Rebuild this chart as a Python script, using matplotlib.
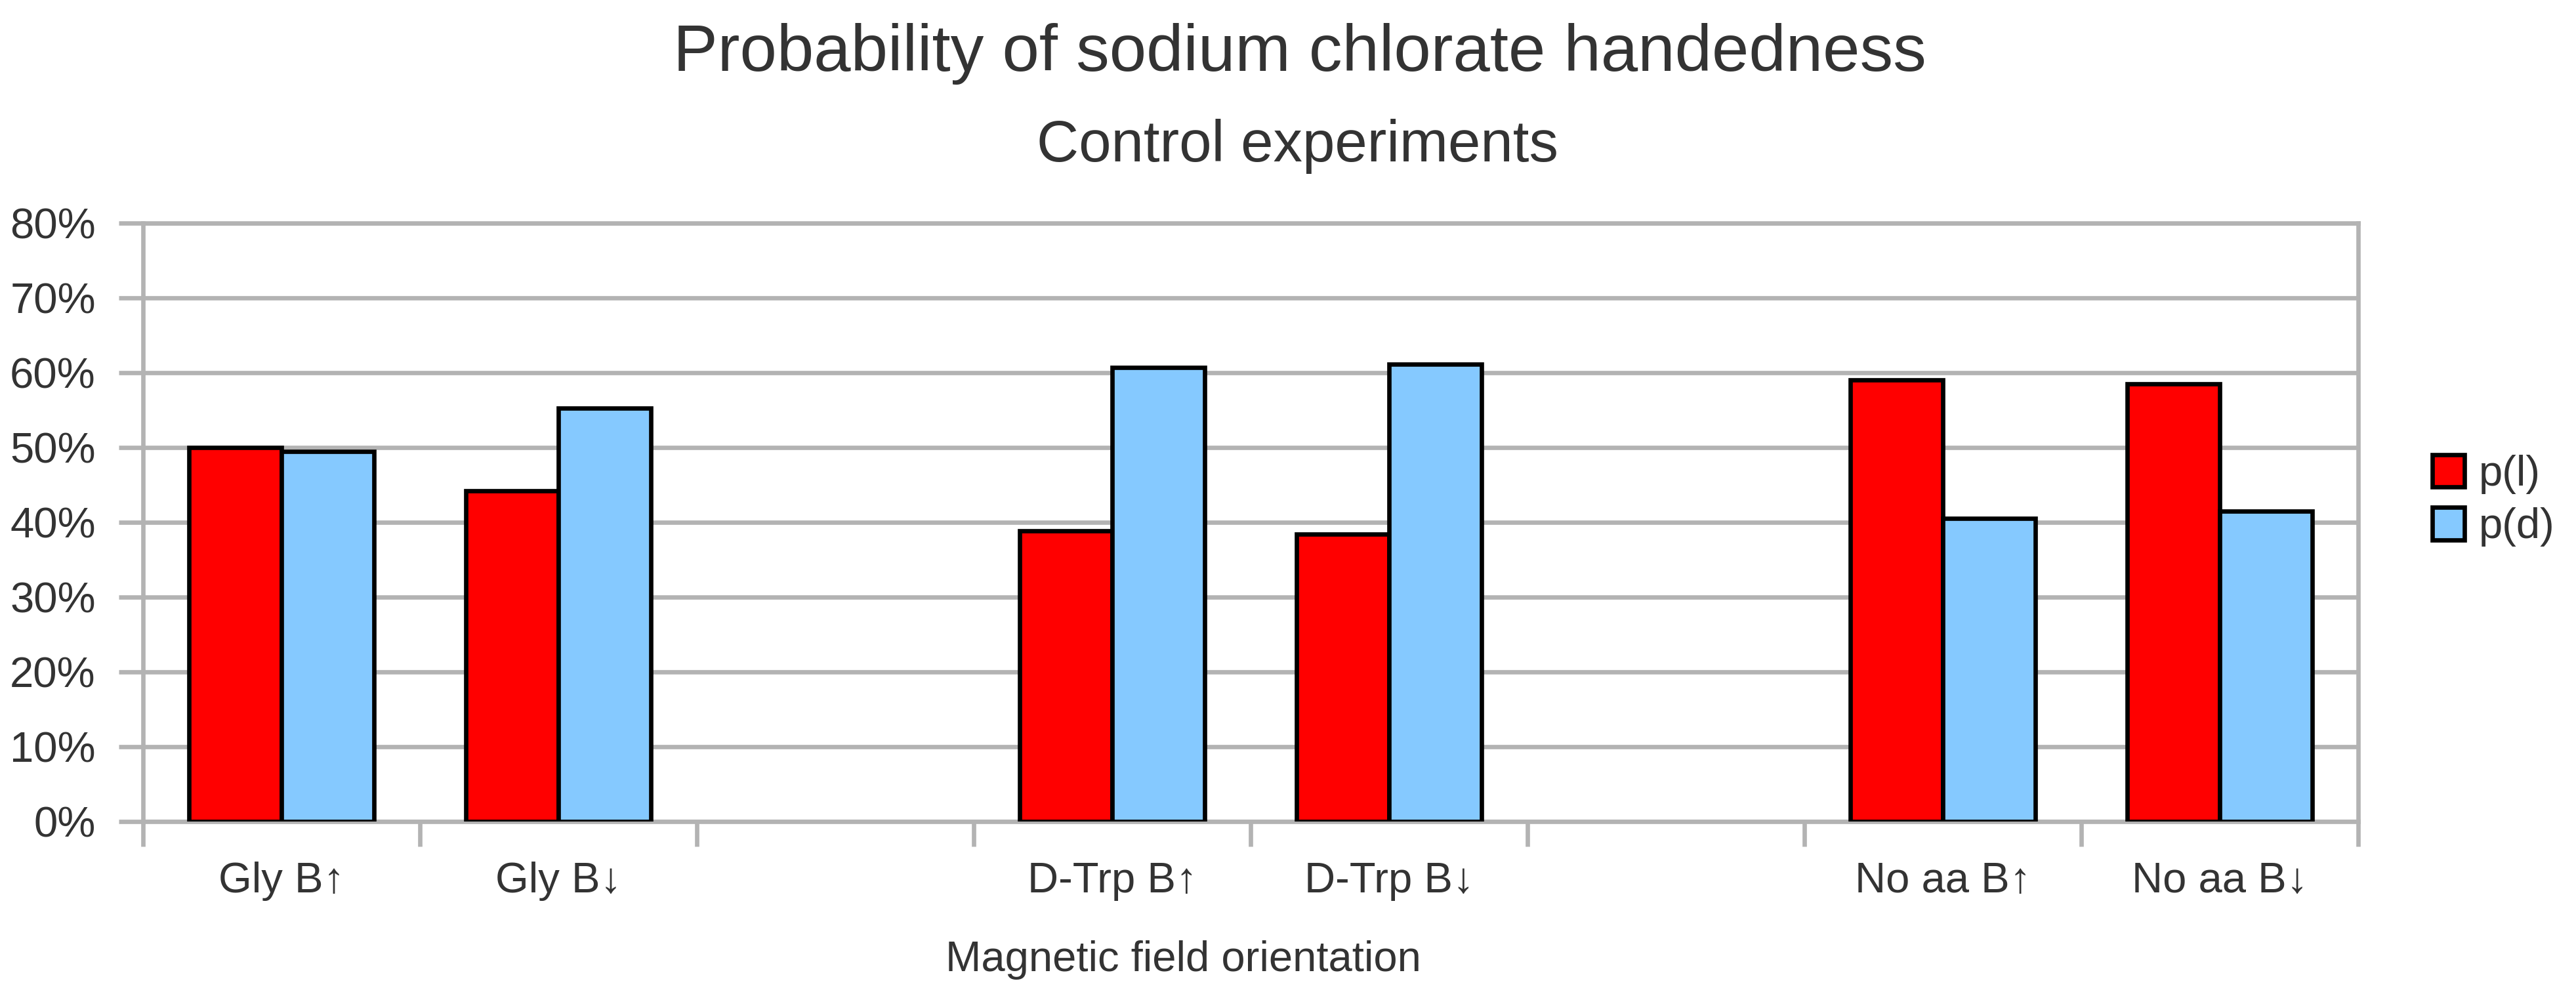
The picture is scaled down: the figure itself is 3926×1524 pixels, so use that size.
import numpy as np
import matplotlib
matplotlib.use('Agg')
import matplotlib.pyplot as plt
from matplotlib.ticker import PercentFormatter

plt.rcParams['font.family'] = ['Liberation Sans', 'DejaVu Sans']

categories = ['Gly B↑', 'Gly B↓', '', 'D-Trp B↑', 'D-Trp B↓', '', 'No aa B↑', 'No aa B↓']
p_l = [0.500, 0.442, np.nan, 0.389, 0.384, np.nan, 0.590, 0.585]
p_d = [0.495, 0.553, np.nan, 0.607, 0.611, np.nan, 0.405, 0.415]
series_names = ['p(l)', 'p(d)']
colors = ['#FF0000', '#85C9FF']

title = 'Probability of sodium chlorate handedness'
subtitle = 'Control experiments'
xlabel = 'Magnetic field orientation'

text_col = '#333333'
grid_col = '#B3B3B3'
lw = 4.8
fs = 47

W, H = 3926, 1524
fig = plt.figure(figsize=(W / 100, H / 100), dpi=100)
ax = fig.add_axes([218 / W, 1 - 1252 / H, (3594 - 218) / W, (1252 - 340) / H])

x = np.arange(len(categories))
mask = np.array([c != '' for c in categories])
w = 1 / 3
bl = ax.bar(x[mask] - w / 2, np.array(p_l)[mask], w, color=colors[0], edgecolor='black',
            linewidth=lw, zorder=3, label=series_names[0])
bd = ax.bar(x[mask] + w / 2, np.array(p_d)[mask], w, color=colors[1], edgecolor='black',
            linewidth=lw, zorder=3, label=series_names[1])

ax.set_xlim(-0.5, len(categories) - 0.5)
ax.set_ylim(0, 0.8)
ax.set_yticks(np.arange(0, 0.81, 0.1))
ax.yaxis.set_major_formatter(PercentFormatter(1.0, decimals=0))
ax.grid(axis='y', color=grid_col, linewidth=lw, zorder=0)
ax.set_axisbelow(True)

ax.set_xticks(np.arange(-0.5, len(categories)), labels=[])
ax.set_xticks(x[mask], labels=[c for c in categories if c], minor=True)
ax.tick_params(axis='x', which='major', length=27, width=lw, color=grid_col, direction='out')
ax.tick_params(axis='x', which='minor', length=0, pad=44, labelsize=fs, labelcolor=text_col)
ax.tick_params(axis='y', length=27, width=lw, color=grid_col, pad=25, labelsize=fs,
               labelcolor=text_col)
for s in ax.spines.values():
    s.set_color(grid_col)
    s.set_linewidth(lw)

fig.text(1981 / W, 1 - 108 / H, title, ha='center', va='baseline', fontsize=73, color=text_col)
fig.text(1978 / W, 1 - 246 / H, subtitle, ha='center', va='baseline', fontsize=64, color=text_col)
fig.text(1803 / W, 1 - 1480 / H, xlabel, ha='center', va='baseline', fontsize=fs, color=text_col)

fig.legend(handles=[bl, bd], labels=series_names, loc='center left',
           bbox_to_anchor=(3707 / W, 1 - 763 / H), frameon=False, fontsize=fs,
           labelcolor=text_col, handlelength=0.75, handleheight=0.8,
           handletextpad=0.33, labelspacing=0.3, borderpad=0, borderaxespad=0)

fig.savefig('out.png', dpi=100)
